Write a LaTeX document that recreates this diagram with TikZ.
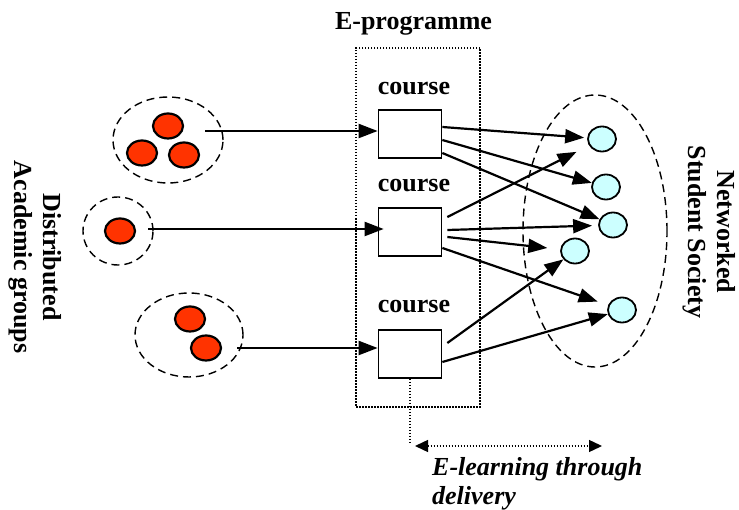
\documentclass[tikz,border=0pt]{standalone}
\usepackage{fontspec}
\setmainfont{Liberation Serif}
\usetikzlibrary{arrows.meta,shapes.geometric}

\definecolor{groupred}{RGB}{255,51,0}
\definecolor{studentcyan}{RGB}{204,255,255}

\begin{document}
\begin{tikzpicture}[x=1pt, y=-1pt,
  member/.style={ellipse, draw, line width=2.2pt, fill=groupred, minimum width=30pt, minimum height=25pt, inner sep=0pt},
  student/.style={ellipse, draw, line width=1.8pt, fill=studentcyan, minimum width=28pt, minimum height=25pt, inner sep=0pt},
  group/.style={ellipse, draw, line width=1.4pt, dash pattern=on 8pt off 5pt, inner sep=0pt},
  coursebox/.style={draw, line width=1.7pt, minimum width=63pt, minimum height=48pt},
  programme/.style={draw, line width=1.4pt, dash pattern=on 1.5pt off 1.5pt, minimum width=124pt, minimum height=359pt},
  link/.style={-{Triangle[length=19pt,width=14pt]}, line width=2.2pt},
  dotline/.style={line width=1.4pt, dash pattern=on 1.5pt off 1.5pt},
  caption/.style={font=\fontsize{26}{29}\selectfont\bfseries, inner sep=0pt}
]
  \useasboundingbox (0,0) rectangle (739,510);

  %% E-programme and courses
  \node[programme] (prog) at (418,227.5) {};
  \node[caption, anchor=base] (title) at (413.5,30) {E-programme};
  \node[coursebox] (c1) at (410,134) {};
  \node[coursebox] (c2) at (410,232) {};
  \node[coursebox] (c3) at (410,354) {};
  \node[caption, anchor=base] (l1) at (414,95) {course};
  \node[caption, anchor=base] (l2) at (414,192) {course};
  \node[caption, anchor=base] (l3) at (414,313) {course};

  %% Academic groups
  \node[group, minimum width=110pt, minimum height=86pt] (g1) at (168,140) {};
  \node[member] (m1) at (168,126) {};
  \node[member] (m2) at (142,153) {};
  \node[member] (m3) at (184,155) {};
  \node[group, minimum width=70pt, minimum height=68pt] (g2) at (118,231) {};
  \node[member] (m4) at (120,231) {};
  \node[group, minimum width=108pt, minimum height=84pt] (g3) at (189,335) {};
  \node[member] (m5) at (190,319) {};
  \node[member] (m6) at (206,348) {};
  \node[caption, rotate=-90, align=center] (dist) at (35,257) {Distributed\\Academic groups};

  %% Student society
  \node[group, minimum width=144pt, minimum height=272pt] (soc) at (595,231) {};
  \node[student] (s1) at (602,139) {};
  \node[student] (s2) at (606,187) {};
  \node[student] (s3) at (613,225) {};
  \node[student] (s4) at (575,251) {};
  \node[student] (s5) at (622,310) {};
  \node[caption, rotate=-90, align=center] (net) at (709,232) {Networked\\Student Society};

  %% Groups to courses
  \coordinate (a1) at (205,131);
  \coordinate (a2) at (148,229);
  \coordinate (a3) at (237,348);
  \draw[link] (a1) -- (a1 -| c1.west);
  \draw[link, shorten >=-6pt] (a2) -- (a2 -| c2.west);
  \draw[link] (a3) -- (a3 -| c3.west);

  %% Courses to students
  \draw[link, shorten >=3pt] ([yshift=7pt]c1.east) -- (s1);
  \draw[link] ([yshift=-6pt]c1.east) -- (s2);
  \draw[link] ([yshift=-19pt]c1.east) -- (s3);
  \draw[link, shorten >=14pt] ([xshift=5pt,yshift=15pt]c2.east) -- (s1);
  \draw[link, shorten >=6pt] ([xshift=5pt,yshift=2pt]c2.east) -- (s3);
  \draw[link, shorten >=13pt] ([xshift=5pt,yshift=-5pt]c2.east) -- (s4);
  \draw[link, shorten >=11pt] ([yshift=-16pt]c2.east) -- (s5);
  \draw[link] ([xshift=5pt,yshift=11pt]c3.east) -- (s4);
  \draw[link] ([yshift=-8pt]c3.east) -- (s5);

  %% Delivery
  \coordinate (dl) at (415,446);
  \coordinate (dr) at (602,446);
  \draw[dotline] (c3.south) -- (c3.south |- 0,442);
  \draw[dotline, {Triangle[length=13pt,width=12pt]}-{Triangle[length=13pt,width=12pt]}] (dl) -- (dr);
  \node[caption, font=\fontsize{26}{29}\selectfont\bfseries\itshape, align=left, anchor=north west] (deliv) at (432,457) {E-learning through\\delivery};
\end{tikzpicture}
\end{document}
